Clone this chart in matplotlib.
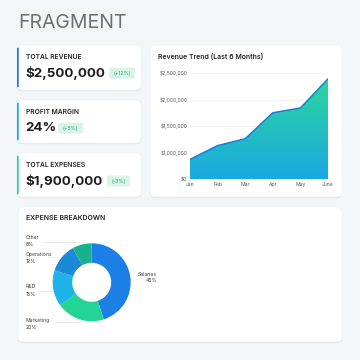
import matplotlib
matplotlib.use('Agg')
import matplotlib.pyplot as plt
import numpy as np
from matplotlib.patches import FancyBboxPatch
from matplotlib.colors import LinearSegmentedColormap
from matplotlib.lines import Line2D

plt.rcParams['font.family'] = ['Inter', 'DejaVu Sans']

# KPI cards
kpi_titles = ['TOTAL REVENUE', 'PROFIT MARGIN', 'TOTAL EXPENSES']
kpi_values = ['$2,500,000', '24%', '$1,900,000']
kpi_changes = ['(+12%)', '(+5%)', '(-3%)']

# revenue trend
months = ['Jan', 'Feb', 'Mar', 'Apr', 'May', 'June']
revenue = [870000, 1130000, 1260000, 1750000, 1840000, 2390000]
ytick_vals = [500000, 1000000, 1500000, 2000000, 2500000]
ytick_labels = ['$0', '$1,000,000', '$1,500,000', '$2,000,000', '$2,500,000']

# expense breakdown
exp_labels = ['Salaries', 'Marketing', 'R&D', 'Operations', 'Other']
exp_shares = [45, 20, 15, 12, 8]
exp_colors = ['#1b7fe6', '#22d594', '#1db3e6', '#1a89d8', '#17b18e']

W = 360.0
BG = '#f3f6f8'


def fx(x):
    return x / W


def fy(y):
    return 1 - y / W


def card(fig, x0, y0, x1, y1, accent=None):
    # soft shadow then white card
    sh = FancyBboxPatch((fx(x0), fy(y1 + 1.2)), fx(x1 - x0), (y1 - y0) / W,
                        boxstyle='round,pad=0,rounding_size=0.014',
                        transform=fig.transFigure, fc='#e4e8ec', ec='none', zorder=-3)
    fig.patches.append(sh)
    p = FancyBboxPatch((fx(x0), fy(y1)), fx(x1 - x0), (y1 - y0) / W,
                       boxstyle='round,pad=0,rounding_size=0.014',
                       transform=fig.transFigure, fc='white', ec='#eceff2', lw=0.4, zorder=-2)
    fig.patches.append(p)
    if accent:
        a = FancyBboxPatch((fx(x0), fy(y1 - 2.5)), fx(1.7), (y1 - y0 - 5) / W,
                           boxstyle='round,pad=0,rounding_size=0.003',
                           transform=fig.transFigure, fc=accent, ec='none', zorder=-1)
        fig.patches.append(a)


fig = plt.figure(figsize=(3.6, 3.6), dpi=100, facecolor=BG)

fig.text(fx(18), fy(23), 'FRAGMENT', fontsize=14.0, color='#6b7074',
         va='center', ha='left')

# KPI cards
card_rows = [(45, 90), (100, 143), (153, 197)]
accents = ['#1a73e8', '#13a6e2', '#22d39a']
badge_x = [(109, 135), (58, 83), (107, 130)]
for i in range(3):
    y0, y1 = card_rows[i]
    card(fig, 17, y0, 141, y1, accents[i])
    fig.text(fx(26), fy(y0 + 12), kpi_titles[i], fontsize=4.8, fontweight='semibold',
             color='#222222', va='center', ha='left')
    fig.text(fx(25.5), fy(y0 + 28), kpi_values[i], fontsize=9.6, fontweight='bold',
             color='#1c1c1c', va='center', ha='left')
    bx0, bx1 = badge_x[i]
    b = FancyBboxPatch((fx(bx0), fy(y0 + 33.5)), fx(bx1 - bx0), 11 / W,
                       boxstyle='round,pad=0,rounding_size=0.006',
                       transform=fig.transFigure, fc='#d9f5e8', ec='none', zorder=0)
    fig.patches.append(b)
    fig.text(fx((bx0 + bx1) / 2), fy(y0 + 28), kpi_changes[i], fontsize=3.7,
             color='#2e9e6e', va='center', ha='center', zorder=4)

# revenue card
card(fig, 150, 45, 342, 197)
fig.text(fx(158), fy(57), 'Revenue Trend (Last 6 Months)', fontsize=5.0,
         fontweight='semibold', color='#222222', va='center', ha='left')

ax = fig.add_axes([fx(190), fy(179), (328 - 190) / W, (179 - 73) / W])
ax.set_zorder(5)
ax.set_facecolor('none')
x = np.arange(len(months))
ymin, ymax = ytick_vals[0], ytick_vals[-1]
poly = ax.fill_between(x, revenue, ymin, color='none', lw=0)
cmap = LinearSegmentedColormap.from_list('g', ['#1aa8e3', '#2fd898'])
grad = np.linspace(0, 1, 256).reshape(-1, 1)
img = ax.imshow(grad, extent=[0, len(months) - 1, ymin, ymax], origin='lower',
                aspect='auto', cmap=cmap, zorder=2)
img.set_clip_path(poly.get_paths()[0], transform=ax.transData)
ax.plot(x, revenue, color='#1c7fd2', lw=1.1, zorder=3)
ax.set_xlim(0, len(months) - 1)
ax.set_ylim(ymin, ymax)
ax.set_yticks(ytick_vals)
ax.set_yticklabels(ytick_labels)
ax.set_xticks(x)
ax.set_xticklabels(months)
ax.tick_params(axis='both', labelsize=3.6, colors='#555555', length=0, pad=2)
ax.grid(axis='y', color='#eeeeee', lw=0.5, zorder=0)
for s in ax.spines.values():
    s.set_visible(False)

# expense card
card(fig, 18, 207, 342, 342)
fig.text(fx(26), fy(218.5), 'EXPENSE BREAKDOWN', fontsize=5.0, fontweight='semibold',
         color='#222222', va='center', ha='left')

cx, cy, r = 91.7, 282.3, 39
pax = fig.add_axes([fx(cx - r), fy(cy + r), 2 * r / W, 2 * r / W])
pax.set_zorder(5)
pax.pie(exp_shares, colors=exp_colors, startangle=90, counterclock=False,
        wedgeprops=dict(width=0.5, edgecolor='none'), radius=1)
pax.set_xlim(-1, 1)
pax.set_ylim(-1, 1)
pax.set_aspect('equal')
pax.axis('off')

# labels with leader lines
label_pos = {'Salaries': (157, 274, 'right'), 'Marketing': (26, 320.7, 'left'),
             'R&D': (26, 287, 'left'), 'Operations': (26, 254.7, 'left'),
             'Other': (26, 237.7, 'left')}
leaders = {'Other': (42, 81, 241.7), 'Operations': (51, 58, 257),
           'R&D': (40, 52, 290.5), 'Marketing': (55, 80, 321.5)}
for lab, share in zip(exp_labels, exp_shares):
    lx, ly, ha = label_pos[lab]
    fig.text(fx(lx), fy(ly), lab, fontsize=3.7, color='#444444', va='center', ha=ha)
    fig.text(fx(lx), fy(ly + 7), f'{share}%', fontsize=3.7, color='#333333',
             va='center', ha=ha)
    if lab in leaders:
        a, b, yy = leaders[lab]
        fig.lines.append(Line2D([fx(a), fx(b)], [fy(yy), fy(yy)], transform=fig.transFigure,
                                color='#e2e2e2', lw=0.5))

fig.savefig('out.png', dpi=100, facecolor=BG)
